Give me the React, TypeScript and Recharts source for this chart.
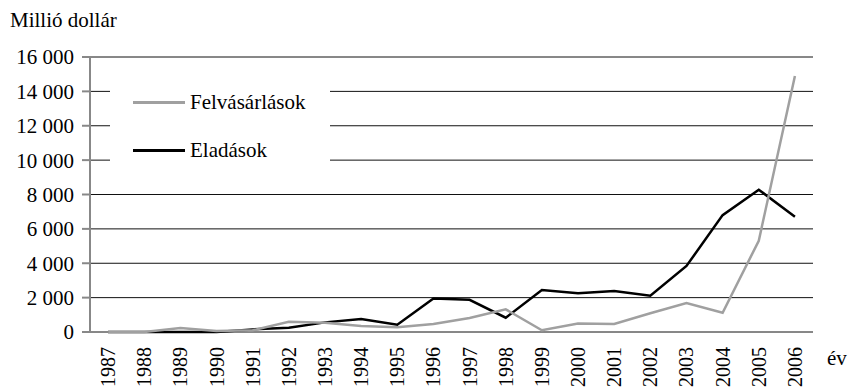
import React from 'react';
import { LineChart, Line, XAxis, YAxis, CartesianGrid } from 'recharts';

// Yearly values, million dollars
const years = [
  '1987', '1988', '1989', '1990', '1991', '1992', '1993', '1994', '1995', '1996',
  '1997', '1998', '1999', '2000', '2001', '2002', '2003', '2004', '2005', '2006',
];
const felvasarlasok = [
  0, 0, 230, 60, 100, 600, 540, 350, 270, 470,
  810, 1320, 100, 500, 470, 1090, 1690, 1120, 5310, 14900,
];
const eladasok = [
  0, 0, 0, 0, 150, 250, 560, 750, 420, 1950,
  1870, 830, 2440, 2250, 2390, 2110, 3840, 6800, 8280, 6710,
];
const yTicks = [0, 2000, 4000, 6000, 8000, 10000, 12000, 14000, 16000];
const boundaryTicks = years.map((_, i) => i).concat(years.length);

const data = years.map((year, i) => ({
  year,
  felv: felvasarlasok[i],
  elad: eladasok[i],
}));

const FONT = '"Liberation Serif", "Times New Roman", serif';
const AXIS_GRAY = '#888888';
const LIGHT = '#a0a0a0';

const fmt = (v: number) => String(v).replace(/\B(?=(\d{3})+(?!\d))/g, ' ');

const YearTick = (props: any) => {
  const { x, y, payload } = props;
  return (
    <g transform={`translate(${x},${y})`}>
      <text
        transform="rotate(-90)"
        textAnchor="end"
        dy="0.35em"
        style={{ fontFamily: FONT, fontSize: 20 }}
        fill="#000"
      >
        {payload.value}
      </text>
    </g>
  );
};

const ValueTick = (props: any) => {
  const { x, y, payload } = props;
  return (
    <text x={x} y={y} dy="0.355em" textAnchor="end" fill="#000" style={{ fontFamily: FONT, fontSize: 21 }}>
      {fmt(payload.value)}
    </text>
  );
};

const legendItems = [
  { label: 'Felvásárlások', color: LIGHT },
  { label: 'Eladások', color: '#000' },
];

// legend sits inside the plot on a white box that hides the grid behind it
const LegendBox = () => (
  <div style={{ position: 'absolute', left: 110, top: 68, width: 220, height: 110, background: '#fff', paddingTop: 10, boxSizing: 'border-box' }}>
    {legendItems.map(item => (
      <div key={item.label} style={{ display: 'flex', alignItems: 'center', height: 48 }}>
        <div style={{ marginLeft: 23, width: 52, height: 3, background: item.color }} />
        <span style={{ marginLeft: 5, fontFamily: FONT, fontSize: 21, color: '#000' }}>
          {item.label}
        </span>
      </div>
    ))}
  </div>
);

export default function App() {
  return (
    <div style={{ position: 'fixed', left: 0, top: 0, width: 851, height: 390, background: '#fff' }}>
      <div style={{ position: 'absolute', left: 10, top: 10, fontFamily: FONT, fontSize: 21, lineHeight: 1 }}>
        Millió dollár
      </div>
      <LineChart
        width={851}
        height={390}
        data={data}
        margin={{ top: 57, right: 38, bottom: 0, left: 10 }}
      >
        <CartesianGrid horizontal vertical={false} stroke="#111" strokeWidth={1} />
        {/* tick marks sit between the years */}
        <XAxis
          xAxisId="ticks"
          type="number"
          domain={[0, years.length]}
          ticks={boundaryTicks}
          allowDataOverflow
          height={0}
          tick={false}
          tickSize={7}
          axisLine={{ stroke: AXIS_GRAY, strokeWidth: 2 }}
          tickLine={{ stroke: AXIS_GRAY, strokeWidth: 2 }}
        />
        <XAxis
          dataKey="year"
          scale="band"
          height={58}
          axisLine={false}
          tickLine={false}
          tickSize={0}
          tickMargin={15}
          interval={0}
          tick={<YearTick />}
        />
        <YAxis
          width={80}
          domain={[0, 16000]}
          ticks={yTicks}
          interval={0}
          tickSize={8}
          tickMargin={8}
          axisLine={{ stroke: AXIS_GRAY, strokeWidth: 2 }}
          tickLine={{ stroke: AXIS_GRAY, strokeWidth: 2 }}
          tick={<ValueTick />}
        />
        <YAxis
          yAxisId="right"
          orientation="right"
          width={0}
          domain={[0, 16000]}
          tick={false}
          tickLine={false}
          axisLine={{ stroke: '#666', strokeWidth: 1.5 }}
        />
        <Line
          dataKey="elad"
          stroke="#000"
          strokeWidth={2.5}
          dot={false}
          isAnimationActive={false}
        />
        <Line
          dataKey="felv"
          stroke={LIGHT}
          strokeWidth={2.5}
          dot={false}
          isAnimationActive={false}
        />
      </LineChart>
      <LegendBox />
      <div style={{ position: 'absolute', left: 827, top: 348, fontFamily: FONT, fontSize: 21, lineHeight: 1 }}>
        év
      </div>
    </div>
  );
}
